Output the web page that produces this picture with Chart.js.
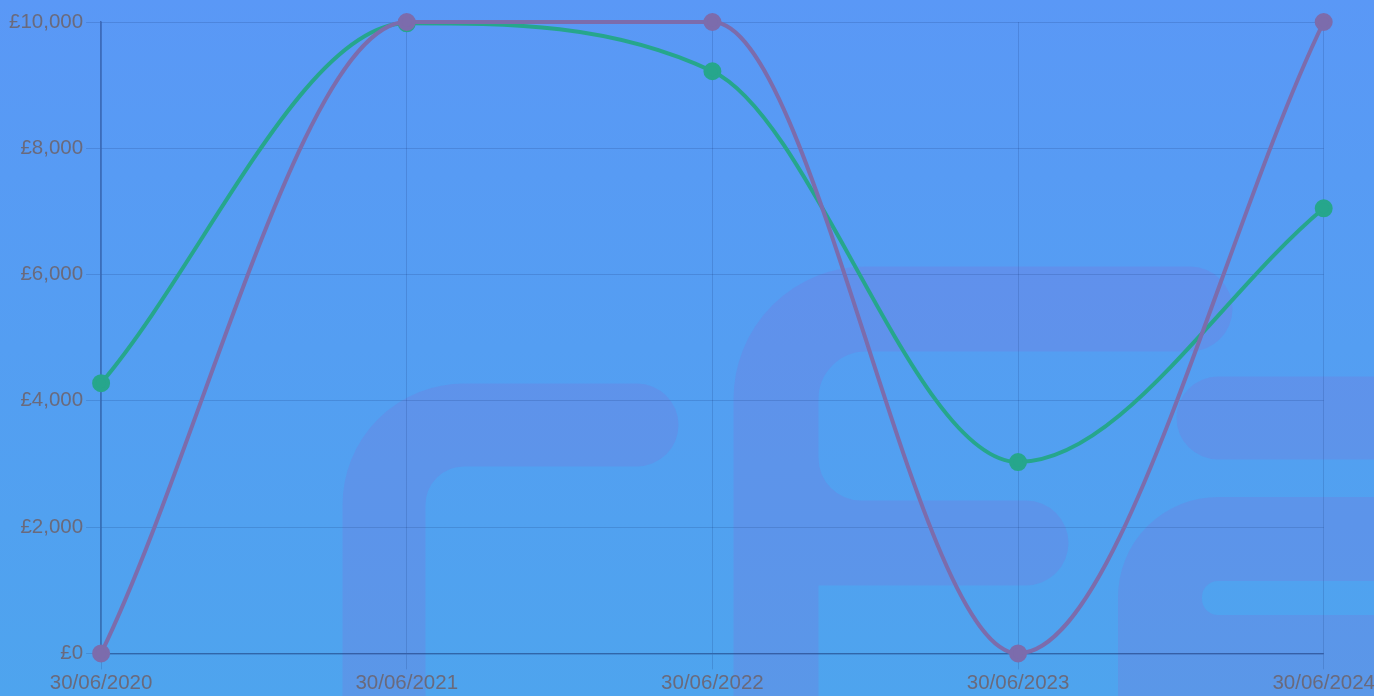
<!DOCTYPE html>
<html>
<head>
<meta charset="utf-8">
<script src="https://cdn.jsdelivr.net/npm/chart.js@4/dist/chart.umd.min.js"></script>
<style>
  html, body { margin: 0; padding: 0; overflow: hidden; width: 1374px; height: 696px; }
  body { background: linear-gradient(to bottom, rgb(90,152,246) 0%, rgb(78,164,238) 100%); }
  #wrap { position: absolute; left: 0; top: 0; width: 1377px; height: 696px; }
</style>
</head>
<body>
<div id="wrap"><canvas id="c"></canvas></div>
<script>
const categories = ['30/06/2020', '30/06/2021', '30/06/2022', '30/06/2023', '30/06/2024'];
const purpleSeries = [0, 10000, 10000, 0, 10000];
const greenSeries = [4280, 9980, 9220, 3030, 7050];
const yTickValues = [0, 2000, 4000, 6000, 8000, 10000];

const watermark = {
  id: 'watermark',
  beforeDraw(chart) {
    const ctx = chart.ctx;
    ctx.save();
    ctx.strokeStyle = 'rgba(140,100,210,0.2)';
    ctx.lineCap = 'round';
    ctx.lineJoin = 'round';
    // shape 1
    ctx.lineWidth = 83;
    ctx.beginPath();
    let R = 80;
    ctx.moveTo(384, 760);
    ctx.lineTo(384, 425 + R);
    ctx.arcTo(384, 425, 384 + R, 425, R);
    ctx.lineTo(637, 425);
    ctx.stroke();
    // shape 2
    ctx.lineWidth = 85;
    ctx.beginPath();
    R = 90;
    ctx.moveTo(1190, 309);
    ctx.lineTo(776 + R, 309);
    ctx.arcTo(776, 309, 776, 309 + R, R);
    ctx.lineTo(776, 760);
    ctx.moveTo(776, 430);
    ctx.arcTo(776, 543, 880, 543, 85);
    ctx.lineTo(1026, 543);
    ctx.moveTo(776, 543);
    ctx.lineTo(1026, 543);
    ctx.stroke();
    // shape 3
    ctx.lineWidth = 83;
    ctx.beginPath();
    ctx.moveTo(1218, 418);
    ctx.lineTo(1450, 418);
    ctx.stroke();
    ctx.lineWidth = 84;
    ctx.beginPath();
    R = 58;
    ctx.moveTo(1450, 539);
    ctx.lineTo(1160 + R, 539);
    ctx.arcTo(1160, 539, 1160, 539 + R, R);
    ctx.lineTo(1160, 700);
    ctx.moveTo(1160, 600);
    ctx.arcTo(1160, 657, 1160 + R, 657, R);
    ctx.lineTo(1450, 657);
    ctx.stroke();
    ctx.restore();
  }
};

const tickColor = '#6a6a7c';
const gridColor = 'rgba(10,30,90,0.15)';
const borderColor = 'rgba(20,40,100,0.4)';

new Chart(document.getElementById('c'), {
  type: 'line',
  data: {
    labels: categories,
    datasets: [
      {
        data: purpleSeries,
        borderColor: 'rgb(124,108,172)',
        backgroundColor: 'rgb(124,108,172)',
        pointBackgroundColor: 'rgb(124,108,172)',
        pointBorderColor: 'rgb(124,108,172)',
        borderWidth: 4,
        pointRadius: 7,
        cubicInterpolationMode: 'monotone',
        fill: false,
        clip: false
      },
      {
        data: greenSeries,
        borderColor: 'rgb(38,166,140)',
        backgroundColor: 'rgb(38,166,140)',
        pointBackgroundColor: 'rgb(38,166,140)',
        pointBorderColor: 'rgb(38,166,140)',
        borderWidth: 4,
        pointRadius: 7,
        cubicInterpolationMode: 'monotone',
        fill: false,
        clip: false
      }
    ]
  },
  options: {
    responsive: true,
    maintainAspectRatio: false,
    animation: false,
    devicePixelRatio: 1,
    layout: { padding: { left: 6, top: 22, right: 0, bottom: -2 } },
    plugins: { legend: { display: false }, tooltip: { enabled: false } },
    scales: {
      x: {
        offset: false,
        grid: { color: gridColor, tickLength: 16, drawTicks: true },
        border: { color: borderColor, width: 1.5 },
        ticks: { color: tickColor, font: { family: 'Liberation Sans, Arial, sans-serif', size: 20.5 }, padding: 2, maxRotation: 0, autoSkip: false }
      },
      y: {
        min: 0,
        max: 10000,
        afterBuildTicks(scale) { scale.ticks = yTickValues.map(v => ({ value: v })); },
        grid: { color: gridColor, tickLength: 15 },
        border: { color: borderColor, width: 1.5 },
        ticks: {
          color: tickColor,
          font: { family: 'Liberation Sans, Arial, sans-serif', size: 20.5 },
          padding: 3,
          callback: v => '£' + Number(v).toLocaleString('en-GB')
        }
      }
    }
  },
  plugins: [watermark]
});
</script>
</body>
</html>
